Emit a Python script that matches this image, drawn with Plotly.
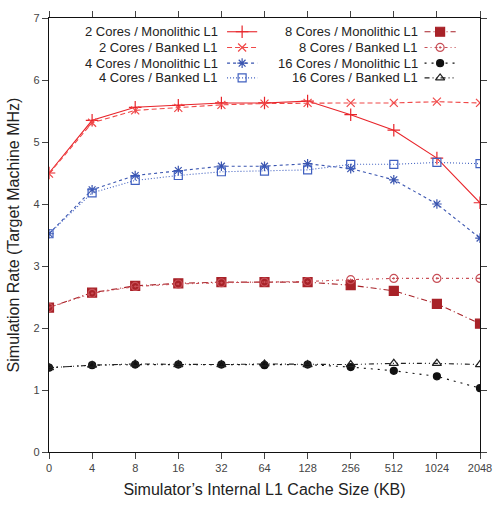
import plotly.graph_objects as go

cache_sizes = ["0", "4", "8", "16", "32", "64", "128", "256", "512", "1024", "2048"]

c2_mono   = [4.50, 5.35, 5.56, 5.59, 5.63, 5.63, 5.66, 5.44, 5.19, 4.74, 4.02]
c2_banked = [4.49, 5.31, 5.51, 5.55, 5.60, 5.62, 5.63, 5.63, 5.63, 5.65, 5.63]
c4_mono   = [3.52, 4.23, 4.46, 4.54, 4.61, 4.61, 4.65, 4.57, 4.39, 4.00, 3.45]
c4_banked = [3.52, 4.18, 4.38, 4.46, 4.52, 4.53, 4.55, 4.64, 4.64, 4.67, 4.65]
c8_mono   = [2.33, 2.57, 2.68, 2.72, 2.74, 2.74, 2.74, 2.69, 2.60, 2.39, 2.07]
c8_banked = [2.33, 2.56, 2.67, 2.71, 2.73, 2.74, 2.75, 2.78, 2.80, 2.80, 2.80]
c16_mono  = [1.36, 1.40, 1.41, 1.41, 1.41, 1.40, 1.41, 1.37, 1.31, 1.22, 1.03]
c16_banked= [1.36, 1.40, 1.42, 1.41, 1.41, 1.42, 1.41, 1.41, 1.43, 1.43, 1.41]

names = ["2 Cores / Monolithic L1", "2 Cores / Banked L1",
         "4 Cores / Monolithic L1", "4 Cores / Banked L1",
         "8 Cores / Monolithic L1", "8 Cores / Banked L1",
         "16 Cores / Monolithic L1", "16 Cores / Banked L1"]
series = [c2_mono, c2_banked, c4_mono, c4_banked, c8_mono, c8_banked, c16_mono, c16_banked]

styles = [
    dict(color="#e8242a", dash="solid", symbol="cross-thin-open", size=9),
    dict(color="#f04848", dash="5px,3px", symbol="x-thin-open", size=8),
    dict(color="#3a55b0", dash="3px,3px", symbol="asterisk-open", size=8),
    dict(color="#4060c0", dash="1px,2px", symbol="square-open", size=8),
    dict(color="#a82228", dash="6px,3px,1px,3px", symbol="square", size=9),
    dict(color="#c85058", dash="3px,3px,1px,3px", symbol="circle-open-dot", size=8),
    dict(color="#111111", dash="2px,5px", symbol="circle", size=7),
    dict(color="#222222", dash="5px,3px,1px,3px,1px,3px", symbol="triangle-up-open", size=8),
]

fig = go.Figure()
for name, ys, st in zip(names, series, styles):
    fig.add_trace(go.Scatter(
        x=cache_sizes, y=ys, name=name, mode="lines+markers",
        line=dict(color=st["color"], width=1.1, dash=st["dash"]),
        marker=dict(symbol=st["symbol"], size=st["size"], color=st["color"],
                    line=dict(color=st["color"], width=1.2)),
        showlegend=False,
    ))

# Manual legend (text right-aligned, sample on the right), in a pixel-like overlay axis
L, R, T, B = 49, 492, 12, 454
col_text_x = [224, 429]
col_line_x = [(232, 263), (435, 467)]
row_y = [26, 42, 58, 73]
order = [(0, 0), (0, 1), (0, 2), (0, 3), (1, 0), (1, 1), (1, 2), (1, 3)]
annotations = []
for i, (col, row) in enumerate(order):
    st = styles[i]
    x0, x1 = col_line_x[col]
    y = row_y[row]
    fig.add_trace(go.Scatter(
        x=[x0, x1], y=[y, y], mode="lines", xaxis="x2", yaxis="y2",
        line=dict(color=st["color"], width=1.1, dash=st["dash"]),
        showlegend=False, hoverinfo="skip"))
    fig.add_trace(go.Scatter(
        x=[(x0 + x1) / 2], y=[y], mode="markers", xaxis="x2", yaxis="y2",
        marker=dict(symbol=st["symbol"], size=st["size"], color=st["color"],
                    line=dict(color=st["color"], width=1.2)),
        showlegend=False, hoverinfo="skip"))
    annotations.append(dict(
        x=col_text_x[col], y=y, xref="x2", yref="y2", text=names[i],
        showarrow=False, xanchor="right", yanchor="middle", borderpad=0,
        font=dict(size=13, color="#222222")))

axis_font = dict(family="Liberation Sans, Arial, sans-serif", size=11, color="#444444")
fig.update_layout(
    width=503, height=506,
    margin=dict(l=L, r=503 - R, t=T, b=506 - B),
    paper_bgcolor="white", plot_bgcolor="white",
    font=dict(family="Liberation Sans, Arial, sans-serif", color="#222222"),
    showlegend=False,
    annotations=annotations,
    xaxis=dict(
        type="category", range=[0, 10], showgrid=False, zeroline=False,
        showline=True, linecolor="#111111", linewidth=1.2, mirror="allticks",
        ticks="outside", ticklen=6, tickcolor="#444444", tickfont=axis_font,
        title=dict(text="Simulator’s Internal L1 Cache Size (KB)",
                   font=dict(size=16, color="#222222"), standoff=10),
    ),
    yaxis=dict(
        range=[0, 7], dtick=1, showgrid=False, zeroline=False,
        showline=True, linecolor="#111111", linewidth=1.2, mirror="allticks",
        ticks="outside", ticklen=6, tickcolor="#444444", tickfont=axis_font,
        title=dict(text="Simulation Rate (Target Machine MHz)",
                   font=dict(size=16, color="#222222"), standoff=9),
    ),
    xaxis2=dict(overlaying="x", range=[L, R], visible=False, fixedrange=True),
    yaxis2=dict(overlaying="y", range=[B, T], visible=False, fixedrange=True),
)

fig.write_html("out.html")
